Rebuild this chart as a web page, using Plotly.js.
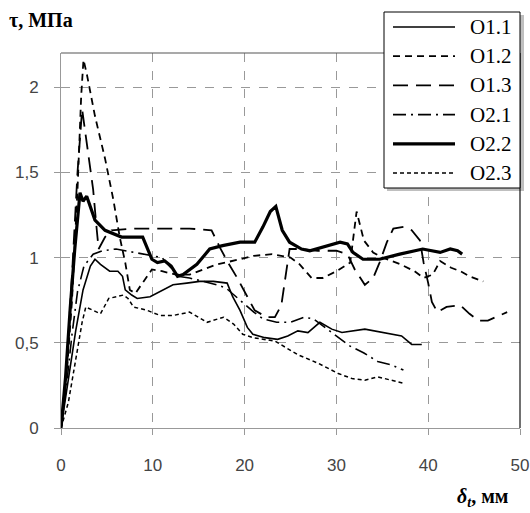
<!DOCTYPE html>
<html>
<head>
<meta charset="utf-8">
<script src="https://cdn.plot.ly/plotly-3.0.1.min.js"></script>
<style>html,body{margin:0;padding:0;background:#fff;}</style>
</head>
<body>
<div id="chart" style="width:530px;height:513px;"></div>
<script>
// ---- data ----
var seriesNames = ['O1.1', 'O1.2', 'O1.3', 'O2.1', 'O2.2', 'O2.3'];

var o11x = [0,0.8,1.6,2.4,3.2,3.7,4.3,5.3,6.2,6.7,7.0,7.7,8.3,9.7,10.8,12.2,13.7,15.1,16.6,18.1,18.7,19.5,20.3,20.9,22.2,23.6,24.7,25.8,26.9,28.2,29.5,30.6,33.1,35,37.1,38.2,39.3];
var o11y = [0,0.3,0.57,0.81,0.95,0.99,0.96,0.92,0.92,0.89,0.81,0.78,0.76,0.77,0.8,0.84,0.85,0.86,0.86,0.85,0.77,0.69,0.59,0.55,0.53,0.52,0.54,0.57,0.56,0.62,0.58,0.56,0.58,0.56,0.54,0.49,0.49];

var o12x = [0,0.6,1.2,1.8,2.2,2.45,2.8,3.7,4.8,5.7,6.4,7.0,7.5,8.1,9.0,9.9,11,12.5,14,15.5,17,19.5,21,23,25,26,27.3,28.5,30,31.5,32.2,33,34,35,37,38.5,39.5,40.5,41.3,42.5,43.5,44.5,46];
var o12y = [0,0.3,0.75,1.4,1.95,2.16,2.08,1.83,1.58,1.34,1.12,0.97,0.81,0.79,0.86,0.93,0.92,0.9,0.9,0.93,0.96,0.99,1.01,1.02,1.0,0.96,0.88,0.88,0.92,0.97,1.27,1.1,1.03,1.0,0.96,0.92,0.88,0.9,0.98,0.94,0.92,0.89,0.86];

var o13x = [0,0.6,1.2,1.8,2.3,2.9,3.5,3.9,4.1,4.8,5.5,8,11,14,16.4,17.3,18.2,19.2,20.3,21.1,22.4,23.3,24.0,24.4,24.9,26,28,30,31.2,32,33.1,34,34.7,35.5,36.2,37.3,38.2,39.1,39.5,40,40.4,41,42,43.5,44.5,45.5,46.5,48.6];
var o13y = [0,0.35,0.9,1.5,1.87,1.64,1.4,1.16,1.05,1.12,1.16,1.17,1.17,1.17,1.16,1.06,0.97,0.88,0.77,0.69,0.65,0.65,0.72,0.87,1.05,1.05,1.04,1.04,1.02,0.93,0.84,0.88,0.97,1.09,1.17,1.18,1.16,1.1,0.97,0.85,0.74,0.68,0.71,0.72,0.67,0.63,0.63,0.68];

var o21x = [0,0.6,1.2,1.8,2.5,3.5,4.5,6,8,10,11,11.8,12.8,14,15.5,17,18,19.5,21,22,23.5,25,26.5,27.5,29,30.5,31.5,33,34.5,36,37.3];
var o21y = [0,0.25,0.55,0.8,0.95,1.02,1.04,1.05,1.03,1.01,1.0,0.95,0.89,0.88,0.86,0.84,0.82,0.75,0.68,0.64,0.62,0.62,0.65,0.64,0.58,0.52,0.48,0.44,0.39,0.37,0.34];

var o22x = [0,0.5,1,1.5,2.07,2.4,2.8,3.2,3.7,4.8,6.6,8.9,9.4,9.9,10.5,11.3,12,12.7,13.3,14.8,16.2,17.6,19.5,21.1,22,22.8,23.4,24.1,24.9,26.2,27.1,28.5,30.4,31.2,31.8,32.9,34.7,36.9,39.4,41.3,42.4,43.2,43.7];
var o22y = [0,0.3,0.7,1.05,1.38,1.33,1.36,1.3,1.22,1.16,1.12,1.12,1.06,0.99,0.97,0.98,0.95,0.89,0.9,0.96,1.05,1.07,1.09,1.09,1.18,1.27,1.3,1.16,1.09,1.05,1.04,1.06,1.09,1.08,1.03,0.99,0.99,1.02,1.05,1.03,1.05,1.04,1.02];

var o23x = [0,0.8,1.6,2.3,2.7,3.5,4.3,5.2,6,6.8,7.3,7.9,9.4,10.8,12.2,14,15.9,17.7,18.8,19.8,20.9,23.3,25.8,28,30.2,31.7,33.1,34.5,36,37.5];
var o23y = [0,0.15,0.4,0.62,0.71,0.69,0.67,0.76,0.77,0.78,0.76,0.71,0.69,0.66,0.66,0.68,0.62,0.65,0.61,0.55,0.53,0.51,0.43,0.38,0.32,0.29,0.28,0.3,0.28,0.26];

var xTickVals = [0, 10, 20, 30, 40, 50];
var xTickText = ['0', '10', '20', '30', '40', '50'];
var yTickVals = [0, 0.5, 1, 1.5, 2];
var yTickText = ['0', '0,5', '1', '1,5', '2'];

var yTitle = '<b>τ, МПа</b>';
var xTitle = '<b><i>δ</i><sub><i>t</i></sub>, мм</b>';

// ---- styles ----
var styles = [
  {width: 1.6, dash: 'solid'},
  {width: 1.8, dash: '7px,5px'},
  {width: 1.8, dash: '15px,8px'},
  {width: 1.6, dash: '13px,5px,2px,5px'},
  {width: 3.2, dash: 'solid'},
  {width: 1.5, dash: '4px,3px'}
];
var xs = [o11x, o12x, o13x, o21x, o22x, o23x];
var ys = [o11y, o12y, o13y, o21y, o22y, o23y];

var traces = seriesNames.map(function (n, i) {
  return {
    type: 'scatter', mode: 'lines', name: n,
    x: xs[i], y: ys[i],
    line: {color: '#000', width: styles[i].width, dash: styles[i].dash}
  };
});

// plot-area geometry (pixels) used to place the legend box in paper units
var plotL = 61, plotT = 53, plotW = 459, plotH = 375;
function px2x(p) { return (p - plotL) / plotW; }
function px2y(p) { return (plotT + plotH - p) / plotH; }

var serif = 'Liberation Serif, Times New Roman, serif';
var shapes = [
  {type: 'line', xref: 'paper', yref: 'paper', x0: 0, x1: 1, y0: 1, y1: 1, line: {color: '#555', width: 1.2}},
  {type: 'line', xref: 'paper', yref: 'paper', x0: 1, x1: 1, y0: 0, y1: 1, line: {color: '#111', width: 1.2}},
  // legend shadow and box
  {type: 'rect', xref: 'paper', yref: 'paper', x0: px2x(387), x1: px2x(524), y0: px2y(191), y1: px2y(15),
   fillcolor: 'rgba(0,0,0,0.25)', line: {width: 0}},
  {type: 'rect', xref: 'paper', yref: 'paper', x0: px2x(384), x1: px2x(520), y0: px2y(188), y1: px2y(12),
   fillcolor: '#fff', line: {color: '#000', width: 1}}
];
var annotations = [
  {text: yTitle, xref: 'paper', yref: 'paper', x: -0.118, y: 1.088, xanchor: 'left', yanchor: 'middle', showarrow: false,
   font: {family: serif, size: 20, color: '#000'}},
  {text: xTitle, xref: 'paper', yref: 'paper', x: 0.978, y: -0.184, xanchor: 'right', yanchor: 'middle', showarrow: false,
   font: {family: serif, size: 20, color: '#000'}}
];
seriesNames.forEach(function (n, i) {
  var cy = 27 + 29.2 * i;
  shapes.push({type: 'line', xref: 'paper', yref: 'paper', x0: px2x(393), x1: px2x(455), y0: px2y(cy), y1: px2y(cy),
    line: {color: '#000', width: styles[i].width, dash: styles[i].dash}});
  annotations.push({text: n, xref: 'paper', yref: 'paper', x: px2x(468), y: px2y(cy), xanchor: 'left', yanchor: 'middle',
    showarrow: false, font: {family: serif, size: 21, color: '#000'}});
});

var tickFont = {family: 'Liberation Sans, Arial, sans-serif', size: 17, color: '#444'};

var layout = {
  width: 530, height: 513,
  margin: {l: 61, r: 10, t: 53, b: 85},
  paper_bgcolor: '#fff', plot_bgcolor: '#fff',
  showlegend: false,
  xaxis: {
    range: [0, 50], tickvals: xTickVals, ticktext: xTickText,
    showgrid: true, gridcolor: '#999', griddash: 'dash', gridwidth: 1,
    zeroline: false, showline: true, linecolor: '#999', linewidth: 1,
    ticks: 'outside', ticklen: 6, tickcolor: '#999',
    tickfont: tickFont, ticklabelstandoff: 16, fixedrange: true
  },
  yaxis: {
    range: [0, 2.2], tickvals: yTickVals, ticktext: yTickText,
    showgrid: true, gridcolor: '#999', griddash: 'dash', gridwidth: 1,
    zeroline: false, showline: true, linecolor: '#999', linewidth: 1,
    ticks: 'outside', ticklen: 6, tickcolor: '#999',
    tickfont: tickFont, ticklabelstandoff: 12, fixedrange: true
  },
  shapes: shapes,
  annotations: annotations
};

Plotly.newPlot('chart', traces, layout, {staticPlot: true, displayModeBar: false});
</script>
</body>
</html>
